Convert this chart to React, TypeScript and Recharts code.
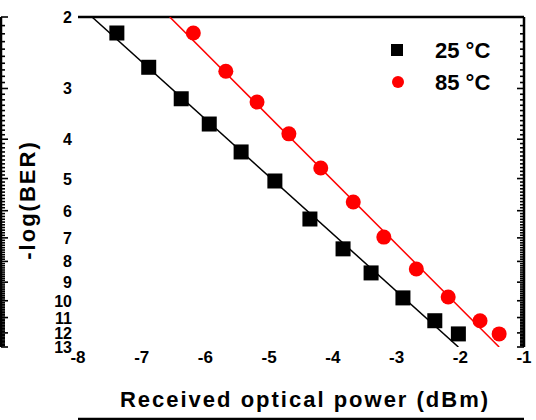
import React from 'react';
import { ScatterChart, Scatter, XAxis, YAxis, Legend } from 'recharts';

// received optical power (dBm) and -log(BER)
const power25 = [-7.39, -6.89, -6.38, -5.94, -5.44, -4.91, -4.36, -3.84, -3.4, -2.9, -2.4, -2.03];
const ber25 = [2.19, 2.66, 3.18, 3.67, 4.3, 5.07, 6.29, 7.45, 8.54, 9.84, 11.2, 12.07];
const power85 = [-6.19, -5.68, -5.19, -4.69, -4.19, -3.68, -3.2, -2.69, -2.19, -1.69, -1.39];
const ber85 = [2.19, 2.72, 3.24, 3.88, 4.71, 5.71, 6.97, 8.35, 9.79, 11.2, 12.07];

// linear fit end points
const fit25x = [-7.78, -2.03];
const fit85x = [-6.56, -1.39];
const fitY = [2, 13];

const xMajor = [-8, -7, -6, -5, -4, -3, -2, -1];
const yMajor = [2, 3, 4, 5, 6, 7, 8, 9, 10, 11, 12, 13];

const FONT = '"Liberation Sans", Arial, sans-serif';
const RED = '#ff0000';

const toPts = (xs: number[], ys: number[]) => xs.map((x, i) => ({ x, y: ys[i] }));
const data25 = toPts(power25, ber25);
const data85 = toPts(power85, ber85);
const fit25 = toPts(fit25x, fitY);
const fit85 = toPts(fit85x, fitY);

// minor ticks: 5 per unit on x, 10 per unit on y
const xTicks: number[] = [];
xMajor.forEach((m, i) => {
  if (i === 0) return;
  for (let k = 0; k < 5; k++) xTicks.push(Math.round((xMajor[i - 1] + k * 0.2) * 10) / 10);
});
xTicks.push(xMajor[xMajor.length - 1]);
const yTicks: number[] = [];
yMajor.forEach((m, i) => {
  if (i === 0) return;
  for (let k = 0; k < 10; k++) yTicks.push(Math.round((yMajor[i - 1] + k * 0.1) * 10) / 10);
});
yTicks.push(yMajor[yMajor.length - 1]);

const isMajor = (v: number) => Math.abs(v - Math.round(v)) < 1e-6;

// inward tick marks for the thin frame axes
const frameTick = (side: 'left' | 'right' | 'top' | 'bottom') => (props: any) => {
  const { x, y, payload } = props;
  const len = isMajor(payload.value) ? 7 : 4;
  let x2 = x;
  let y2 = y;
  if (side === 'left') x2 = x + len;
  else if (side === 'right') x2 = x - len;
  else if (side === 'top') y2 = y + len;
  else y2 = y - len;
  return <line x1={x} y1={y} x2={x2} y2={y2} stroke="#000" strokeWidth={1.6} />;
};

// number labels only, for the outer label axes
const yLabel = (props: any) => (
  <text x={props.x - 6} y={props.y + 6} textAnchor="end" fontFamily={FONT} fontWeight={700} fontSize={16} fill="#000">
    {props.payload.value}
  </text>
);
const xLabel = (props: any) => (
  <text x={props.x} y={props.y + 16} textAnchor="middle" fontFamily={FONT} fontWeight={700} fontSize={17} fill="#000">
    {props.payload.value}
  </text>
);

const Square = (p: any) => <rect x={p.cx - 7.5} y={p.cy - 7.5} width={15} height={15} fill="#000" />;
const Dot = (p: any) => <circle cx={p.cx} cy={p.cy} r={7.5} fill={RED} />;
const Nothing = () => <g />;

// legend entries plus the two axis titles, drawn over the chart
const Overlay = () => (
  <svg width={536} height={420} style={{ display: 'block' }}>
    <g fontFamily={FONT} fontWeight={700} fill="#000">
      <rect x={391} y={44} width={12} height={12} fill="#000" />
      <text x={435} y={58} fontSize={22}>25 °C</text>
      <circle cx={398} cy={82} r={6} fill={RED} />
      <text x={435} y={90} fontSize={22}>85 °C</text>
      <text x={305} y={407} textAnchor="middle" fontSize={22} letterSpacing={2}>
        Received optical power (dBm)
      </text>
      <text x={35} y={200} transform="rotate(-90 35 200)" textAnchor="middle" fontSize={22} letterSpacing={2}>
        -log(BER)
      </text>
    </g>
  </svg>
);

const axisLine = { stroke: '#000', strokeWidth: 2.5 };

const frameX = (id: string, side: 'top' | 'bottom') => (
  <XAxis
    xAxisId={id}
    orientation={side}
    type="number"
    domain={[-8, -1]}
    ticks={xTicks}
    interval={0}
    height={1}
    tickSize={0}
    tickMargin={0}
    tickLine={false}
    axisLine={axisLine}
    tick={frameTick(side)}
  />
);

const frameY = (id: string, side: 'left' | 'right') => (
  <YAxis
    yAxisId={id}
    orientation={side}
    type="number"
    scale="log"
    domain={[2, 13]}
    reversed
    allowDataOverflow
    ticks={yTicks}
    interval={0}
    width={1}
    tickSize={0}
    tickMargin={0}
    tickLine={false}
    axisLine={axisLine}
    tick={frameTick(side)}
  />
);

export default function App() {
  return (
    <div style={{ position: 'absolute', left: 0, top: 0, background: '#fff' }}>
      <ScatterChart width={536} height={420} margin={{ top: 16, right: 11, bottom: 0, left: 0 }}>
        {frameX('frameBottom', 'bottom')}
        {frameX('frameTop', 'top')}
        {frameY('frameLeft', 'left')}
        {frameY('frameRight', 'right')}
        <XAxis
          xAxisId="data"
          type="number"
          dataKey="x"
          domain={[-8, -1]}
          ticks={xMajor}
          interval={0}
          height={72}
          tickSize={0}
          tickMargin={0}
          tickLine={false}
          axisLine={false}
          tick={xLabel}
        />
        <YAxis
          yAxisId="data"
          type="number"
          dataKey="y"
          scale="log"
          domain={[2, 13]}
          reversed
          allowDataOverflow
          ticks={yMajor}
          interval={0}
          width={77}
          tickSize={0}
          tickMargin={0}
          tickLine={false}
          axisLine={false}
          tick={yLabel}
        />
        <Legend
          layout="vertical"
          align="center"
          verticalAlign="middle"
          wrapperStyle={{ top: 0, left: 0, width: 536, height: 420, pointerEvents: 'none' }}
          content={() => <Overlay />}
        />
        <Scatter xAxisId="data" yAxisId="data" data={fit25} line={{ stroke: '#000', strokeWidth: 1.5 }} shape={Nothing} isAnimationActive={false} legendType="none" />
        <Scatter xAxisId="data" yAxisId="data" data={fit85} line={{ stroke: RED, strokeWidth: 1.5 }} shape={Nothing} isAnimationActive={false} legendType="none" />
        <Scatter xAxisId="data" yAxisId="data" name="25 °C" data={data25} shape={Square} isAnimationActive={false} />
        <Scatter xAxisId="data" yAxisId="data" name="85 °C" data={data85} shape={Dot} isAnimationActive={false} />
      </ScatterChart>
    </div>
  );
}
